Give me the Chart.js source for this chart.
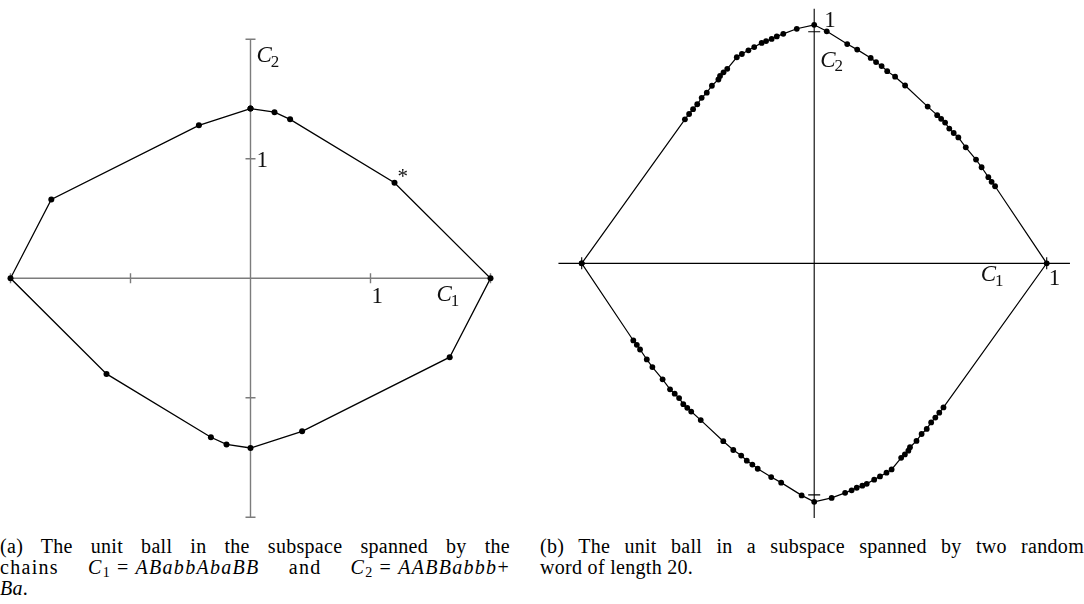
<!DOCTYPE html>
<html>
<head>
<meta charset="utf-8">
<script src="https://cdn.jsdelivr.net/npm/chart.js@4.4.1/dist/chart.umd.min.js"></script>
<style>
  html, body { margin: 0; padding: 0; background: #fff; }
  body { width: 1084px; height: 604px; position: relative; overflow: hidden; }
  canvas { position: absolute; }
  #ballA { left: 0; top: 0; }
  #ballB { left: 540px; top: 0; }
  .cap { position: absolute; font-family: 'Liberation Serif', 'Times New Roman', serif;
         font-size: 20px; line-height: 21px; letter-spacing: 0.3px; color: #000; }
  .cap div { white-space: nowrap; }
  .cap .j { text-align: justify; text-align-last: justify; white-space: normal; }
  .cap .wide { letter-spacing: 1.3px; }
  .cap i { font-style: italic; }
  .cap sub { font-size: 14px; vertical-align: -3px; line-height: 0; }
  .cap .m { white-space: nowrap; }
  .cap .eq { margin: 0 6px; }
  #capA { left: 0; top: 536px; width: 510px; }
  #capB { left: 540px; top: 536px; width: 544px; }
</style>
</head>
<body>
<canvas id="ballA" width="520" height="530"></canvas>
<canvas id="ballB" width="544" height="530"></canvas>

<div class="cap" id="capA">
  <div class="j">(a) The unit ball in the subspace spanned by the</div>
  <div class="j wide">chains <span class="m"><i>C</i><sub>1</sub><span class="eq">=</span><i>ABabbAbaBB</i></span> and <span class="m"><i>C</i><sub>2</sub><span class="eq">=</span><i>AABBabbb</i>+</span></div>
  <div><i>Ba</i>.</div>
</div>
<div class="cap" id="capB">
  <div class="j">(b) The unit ball in a subspace spanned by two random</div>
  <div>word of length 20.</div>
</div>

<script>
// Vertices of the unit ball for C1 = ABabbAbaBB, C2 = AABBabbb + Ba
const ballAX = [0, 0.2, 0.33, 1.2, 2, 1.66, 0.43, 0, -0.2, -0.33, -1.2, -2, -1.66, -0.43];
const ballAY = [1.42, 1.39, 1.33, 0.8, 0, -0.66, -1.28, -1.42, -1.39, -1.33, -0.8, 0, 0.66, 1.28];
const ballAStarIndex = 3;           // vertex marked with an asterisk
const ballATicks = [-2, -1, 1, 2];

// Vertices of the unit ball for two random words of length 20 (upper arc, then lower arc)
const ballBX = [
  -1, -0.556, -0.538, -0.521, -0.503, -0.484, -0.462, -0.440, -0.412, -0.405, -0.390, -0.374,
  -0.333, -0.311, -0.283, -0.258, -0.226, -0.207, -0.183, -0.161, -0.133, -0.075, 0,
  0.054, 0.142, 0.185, 0.243, 0.266, 0.290, 0.314, 0.348, 0.391, 0.488, 0.529, 0.546,
  0.563, 0.581, 0.600, 0.620, 0.652, 0.696, 0.720, 0.749, 0.763, 0.778,
  1, 0.556, 0.538, 0.521, 0.503, 0.484, 0.462, 0.440, 0.412, 0.405, 0.390, 0.374,
  0.333, 0.311, 0.283, 0.258, 0.226, 0.207, 0.183, 0.161, 0.133, 0.075, 0,
  -0.054, -0.142, -0.185, -0.243, -0.266, -0.290, -0.314, -0.348, -0.391, -0.488, -0.529, -0.546,
  -0.563, -0.581, -0.600, -0.620, -0.652, -0.696, -0.720, -0.749, -0.763, -0.778
];
const ballBY = [
  0, 0.622, 0.645, 0.666, 0.687, 0.715, 0.737, 0.767, 0.794, 0.809, 0.825, 0.840,
  0.890, 0.904, 0.920, 0.934, 0.952, 0.960, 0.969, 0.980, 0.991, 1.013, 1.030,
  1.002, 0.947, 0.923, 0.887, 0.869, 0.852, 0.830, 0.806, 0.768, 0.677, 0.640, 0.624,
  0.608, 0.582, 0.563, 0.544, 0.501, 0.448, 0.415, 0.372, 0.352, 0.333,
  0, -0.622, -0.645, -0.666, -0.687, -0.715, -0.737, -0.767, -0.794, -0.809, -0.825, -0.840,
  -0.890, -0.904, -0.920, -0.934, -0.952, -0.960, -0.969, -0.980, -0.991, -1.013, -1.030,
  -1.002, -0.947, -0.923, -0.887, -0.869, -0.852, -0.830, -0.806, -0.768, -0.677, -0.640, -0.624,
  -0.608, -0.582, -0.563, -0.544, -0.501, -0.448, -0.415, -0.372, -0.352, -0.333
];
const ballBTicks = [-1, 1];

// Closed polygon: vertices followed by the first vertex again
function loop(xs, ys) {
  const pts = xs.map((x, i) => ({ x, y: ys[i] }));
  pts.push({ ...pts[0] });
  return pts;
}

// Draw "C" with a subscript index
function drawSubLabel(ctx, base, sub, x, y, size) {
  ctx.font = `italic ${size}px "Liberation Serif", serif`;
  ctx.textAlign = 'left';
  ctx.textBaseline = 'alphabetic';
  ctx.fillText(base, x, y);
  const w = ctx.measureText(base).width;
  ctx.font = `${Math.round(size * 0.72)}px "Liberation Serif", serif`;
  ctx.fillText(sub, x + w - 1, y + size * 0.2);
}

// Axes crossing at the origin, with small ticks crossing the axis lines
const centerAxes = {
  id: 'centerAxes',
  beforeDatasetsDraw(chart, args, o) {
    const { ctx, scales: { x, y } } = chart;
    const x0 = x.getPixelForValue(0), y0 = y.getPixelForValue(0);
    ctx.save();
    ctx.strokeStyle = o.color;
    ctx.lineWidth = o.width;
    ctx.beginPath();
    ctx.moveTo(x.getPixelForValue(o.xMin), y0);
    ctx.lineTo(x.getPixelForValue(o.xMax), y0);
    ctx.moveTo(x0, y.getPixelForValue(o.yMin));
    ctx.lineTo(x0, y.getPixelForValue(o.yMax));
    o.xTicks.forEach(v => {
      const px = x.getPixelForValue(v);
      ctx.moveTo(px, y0 - o.tick); ctx.lineTo(px, y0 + o.tick);
    });
    o.yTicks.forEach(v => {
      const py = y.getPixelForValue(v);
      ctx.moveTo(x0 - o.tick, py); ctx.lineTo(x0 + o.tick, py);
    });
    ctx.stroke();
    ctx.restore();
  },
  afterDatasetsDraw(chart, args, o) {
    const { ctx, scales: { x, y } } = chart;
    ctx.save();
    ctx.fillStyle = '#111';
    (o.labels || []).forEach(l => {
      const px = x.getPixelForValue(l.x) + l.dx;
      const py = y.getPixelForValue(l.y) + l.dy;
      if (l.sub) {
        drawSubLabel(ctx, l.text, l.sub, px, py, l.size);
      } else {
        ctx.font = `${l.size}px "Liberation Serif", serif`;
        ctx.textAlign = 'left';
        ctx.textBaseline = 'alphabetic';
        ctx.fillText(l.text, px, py);
      }
    });
    ctx.restore();
  }
};

function makeBall(id, xs, ys, range, padding, axes, dot) {
  return new Chart(document.getElementById(id), {
    type: 'scatter',
    data: {
      datasets: [{
        data: loop(xs, ys),
        showLine: true,
        borderColor: '#000',
        borderWidth: dot.line,
        backgroundColor: '#000',
        pointBackgroundColor: '#000',
        pointBorderWidth: 0,
        pointRadius: dot.r,
        tension: 0
      }]
    },
    options: {
      responsive: false,
      animation: false,
      devicePixelRatio: 1,
      layout: { padding },
      events: [],
      plugins: { legend: { display: false }, tooltip: { enabled: false }, centerAxes: axes },
      scales: {
        x: { type: 'linear', display: false, min: -range.x, max: range.x },
        y: { type: 'linear', display: false, min: -range.y, max: range.y }
      }
    },
    plugins: [centerAxes]
  });
}

// Left panel
makeBall('ballA', ballAX, ballAY,
  { x: 2.05, y: 2.05 },
  { left: 4.5, right: 23.5, top: 33.3, bottom: 6.7 },
  {
    color: '#7c7c7c', width: 1.4, tick: 5,
    xMin: -2, xMax: 2, yMin: -2, yMax: 2,
    xTicks: ballATicks, yTicks: ballATicks,
    labels: [
      { text: '1', x: 1, y: 0, dx: 1, dy: 25, size: 23 },
      { text: '1', x: 0, y: 1, dx: 6, dy: 8, size: 23 },
      { text: 'C', sub: '1', x: 2, y: 0, dx: -54, dy: 23, size: 23 },
      { text: 'C', sub: '2', x: 0, y: 2, dx: 6, dy: 23, size: 23 },
      { text: '*', x: ballAX[ballAStarIndex], y: ballAY[ballAStarIndex], dx: 3, dy: 0, size: 21 }
    ]
  },
  { r: 3, line: 1.3 });

// Right panel
makeBall('ballB', ballBX, ballBY,
  { x: 1.12, y: 1.12 },
  { left: 13.8, right: 9.4, top: 0.7, bottom: 7.3 },
  {
    color: '#000', width: 1.1, tick: 6,
    xMin: -1.1, xMax: 1.1, yMin: -1.1, yMax: 1.1,
    xTicks: ballBTicks, yTicks: ballBTicks,
    labels: [
      { text: '1', x: 1, y: 0, dx: 2, dy: 22, size: 23 },
      { text: '1', x: 0, y: 1, dx: 10, dy: -5, size: 23 },
      { text: 'C', sub: '1', x: 1, y: 0, dx: -66, dy: 18, size: 23 },
      { text: 'C', sub: '2', x: 0, y: 1, dx: 6, dy: 35, size: 23 }
    ]
  },
  { r: 2.9, line: 1.2 });
</script>
</body>
</html>
